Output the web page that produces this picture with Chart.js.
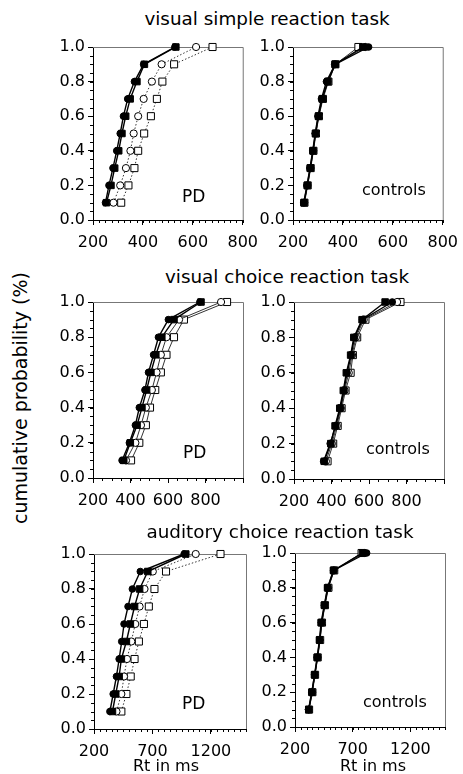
<!DOCTYPE html>
<html>
<head>
<meta charset="utf-8">
<script src="https://cdn.jsdelivr.net/npm/chart.js@4.4.1/dist/chart.umd.min.js"></script>
<style>
  body { margin: 0; background: #fff; }
  #page { position: relative; width: 463px; height: 774px; overflow: hidden; font-family: 'DejaVu Sans', sans-serif; color: #000; }
  #page canvas { position: absolute; }
  .lbl { position: absolute; white-space: nowrap; line-height: 1; }
</style>
</head>
<body>
<div id="page"></div>
<script>
// cumulative probability levels (y) for every curve
var probs = [0.1, 0.2, 0.3, 0.4, 0.5, 0.6, 0.7, 0.8, 0.9, 1.0];
var yTicks = [0, 0.2, 0.4, 0.6, 0.8, 1.0];
var xTicksSimple = [200, 400, 600, 800];
var xTicksChoice = [200, 400, 600, 800, 1000];
var xLabelsChoice = [200, 400, 600, 800];
var xTicksAud = [200, 700, 1200];

var taskTitles = ['visual simple reaction task', 'visual choice reaction task', 'auditory choice reaction task'];
var groupNames = ['PD', 'controls'];

// Rt in ms at each probability level
// visual simple, PD
var vsPdFs = [254, 272, 287, 303, 316, 331, 349, 376, 406, 532];
var vsPdFc = [250, 264, 280, 295, 309, 322, 339, 366, 403, 528];
var vsPdOc = [282, 309, 332, 350, 363, 381, 403, 436, 475, 613];
var vsPdOs = [313, 342, 366, 381, 405, 432, 456, 478, 525, 679];
// visual simple, controls
var vsCoFs = [244, 257, 269, 280, 290, 302, 317, 340, 369, 480];
var vsCoFc = [243, 256, 268, 279, 289, 300, 314, 334, 369, 503];
var vsCoOc = [245, 258, 270, 281, 291, 303, 318, 338, 368, 490];
var vsCoOs = [246, 259, 271, 282, 292, 304, 320, 342, 370, 462];
// visual choice, PD
var vcPdFs = [364, 399, 435, 461, 486, 509, 535, 567, 632, 776];
var vcPdFc = [355, 394, 426, 447, 477, 496, 523, 549, 602, 770];
var vcPdOc = [376, 426, 456, 482, 514, 539, 562, 592, 659, 883];
var vcPdOs = [403, 447, 482, 504, 532, 562, 592, 632, 685, 915];
// visual choice, controls
var vcCoFs = [361, 396, 419, 444, 463, 479, 502, 519, 563, 686];
var vcCoFc = [358, 393, 422, 447, 466, 483, 505, 522, 566, 724];
var vcCoOc = [370, 402, 428, 450, 470, 492, 510, 530, 572, 750];
var vcCoOs = [379, 409, 433, 454, 475, 502, 514, 537, 581, 768];
// auditory choice, PD
var acPdFs = [358, 386, 415, 434, 477, 511, 547, 590, 660, 985];
var acPdFc = [336, 364, 392, 415, 437, 457, 491, 528, 596, 971];
var acPdOc = [392, 434, 457, 482, 519, 553, 590, 632, 703, 1070];
var acPdOs = [434, 477, 514, 547, 584, 627, 669, 717, 816, 1282];
// auditory choice, controls
var acCoFs = [319, 347, 369, 392, 412, 426, 454, 482, 533, 785];
var acCoFc = [317, 345, 371, 394, 414, 430, 456, 484, 535, 821];
var acCoOc = [320, 349, 372, 395, 416, 432, 458, 487, 538, 800];
var acCoOs = [322, 351, 374, 397, 418, 434, 460, 490, 540, 777];

var FONT = 'DejaVu Sans';
var page = document.getElementById('page');

// plot boxes are [left, top, right, bottom] in page pixels
var panels = [
  { box: [93, 47, 244, 220], xmin: 200, xmax: 800, xticks: xTicksSimple, xlabels: xTicksSimple, xminor: 25,
    series: [vsPdFs, vsPdFc, vsPdOc, vsPdOs], dash: [1.5, 2] },
  { box: [293, 47, 444, 220], xmin: 200, xmax: 800, xticks: xTicksSimple, xlabels: xTicksSimple, xminor: 25,
    series: [vsCoFs, vsCoFc, vsCoOc, vsCoOs], dash: [] },
  { box: [93, 302, 243, 478], xmin: 200, xmax: 1000, xticks: xTicksChoice, xlabels: xLabelsChoice, xminor: 50,
    series: [vcPdFs, vcPdFc, vcPdOc, vcPdOs], dash: [] },
  { box: [294, 302, 444, 479], xmin: 200, xmax: 1000, xticks: xTicksChoice, xlabels: xLabelsChoice, xminor: 50,
    series: [vcCoFs, vcCoFc, vcCoOc, vcCoOs], dash: [] },
  { box: [94, 554, 246, 729], xmin: 200, xmax: 1500, xticks: xTicksAud, xlabels: xTicksAud, xminor: 50,
    series: [acPdFs, acPdFc, acPdOc, acPdOs], dash: [1.5, 2] },
  { box: [295, 553, 445, 727], xmin: 200, xmax: 1500, xticks: xTicksAud, xlabels: xTicksAud, xminor: 50,
    series: [acCoFs, acCoFc, acCoOc, acCoOs], dash: [] }
];

// filled square, filled circle, open circle, open square
var markStyles = [
  { pointStyle: 'rect', pointRadius: 4.6, fill: '#000', line: '#000', width: 1.4, open: false },
  { pointStyle: 'circle', pointRadius: 3.3, fill: '#000', line: '#000', width: 1.4, open: false },
  { pointStyle: 'circle', pointRadius: 3.6, fill: '#fff', line: '#333', width: 1, open: true },
  { pointStyle: 'rect', pointRadius: 5, fill: '#fff', line: '#333', width: 1, open: true }
];

// small inward/outward ticks between the labelled ones + grey box edges
var frame = {
  id: 'frame',
  beforeDatasetsDraw: function(chart) {
    var ctx = chart.ctx, a = chart.chartArea;
    ctx.save();
    ctx.strokeStyle = '#777';
    ctx.lineWidth = 1;
    ctx.beginPath();
    ctx.moveTo(a.left, a.top + 0.5);
    ctx.lineTo(a.right + 0.5, a.top + 0.5);
    ctx.lineTo(a.right + 0.5, a.bottom);
    ctx.stroke();
    ctx.restore();
  },
  afterDraw: function(chart, args, opts) {
    var ctx = chart.ctx, a = chart.chartArea;
    var xs = chart.scales.x, ys = chart.scales.y;
    ctx.save();
    ctx.strokeStyle = '#000';
    ctx.lineWidth = 1;
    ctx.beginPath();
    for (var v = xs.min; v <= xs.max + 0.001; v += opts.xStep) {
      var px = Math.round(xs.getPixelForValue(v)) + 0.5;
      ctx.moveTo(px, a.bottom);
      ctx.lineTo(px, a.bottom + 3);
    }
    for (var w = 0; w <= 1.0001; w += 0.05) {
      var py = Math.round(ys.getPixelForValue(w)) + 0.5;
      ctx.moveTo(a.left, py);
      ctx.lineTo(a.left - 3, py);
    }
    ctx.stroke();
    ctx.restore();
  }
};

function makePanel(p) {
  var L = p.box[0], T = p.box[1], R = p.box[2], B = p.box[3];
  var canvas = document.createElement('canvas');
  canvas.width = R - L + 82;
  canvas.height = B - T + 45;
  canvas.style.left = (L - 60) + 'px';
  canvas.style.top = (T - 15) + 'px';
  page.appendChild(canvas);

  var datasets = p.series.map(function(xs, k) {
    var st = markStyles[k];
    return {
      data: xs.map(function(x, i) { return { x: x, y: probs[i] }; }),
      borderColor: st.line,
      borderWidth: st.width,
      borderDash: st.open ? p.dash : [],
      pointStyle: st.pointStyle,
      pointRadius: st.pointRadius,
      pointBackgroundColor: st.fill,
      pointBorderColor: '#000',
      pointBorderWidth: 1,
      tension: 0,
      fill: false,
      clip: false
    };
  });

  var tickFont = { family: FONT, size: 16 };
  return new Chart(canvas, {
    type: 'line',
    data: { datasets: datasets },
    options: {
      responsive: false,
      animation: false,
      layout: { padding: { left: 0, top: 15, right: 22, bottom: 0 } },
      plugins: { legend: { display: false }, tooltip: { enabled: false }, frame: { xStep: p.xminor } },
      scales: {
        x: {
          type: 'linear', min: p.xmin, max: p.xmax,
          afterBuildTicks: function(s) { s.ticks = p.xticks.map(function(v) { return { value: v }; }); },
          afterFit: function(s) { s.height = 30; },
          grid: { drawOnChartArea: false, tickLength: 5, color: '#000', tickColor: '#000' },
          border: { color: '#000', width: 1 },
          ticks: {
            padding: 8, color: '#000', font: tickFont, maxRotation: 0, autoSkip: false,
            callback: function(v) { return p.xlabels.indexOf(v) >= 0 ? String(v) : ''; }
          }
        },
        y: {
          min: 0, max: 1,
          afterBuildTicks: function(s) { s.ticks = yTicks.map(function(v) { return { value: v }; }); },
          afterFit: function(s) { s.width = 60; },
          grid: { drawOnChartArea: false, tickLength: 5, color: '#000', tickColor: '#000' },
          border: { color: '#000', width: 1 },
          ticks: {
            padding: 3, color: '#000', font: tickFont,
            callback: function(v) { return v.toFixed(1); }
          }
        }
      }
    },
    plugins: [frame]
  });
}

// text helpers; baseline position for DejaVu Sans at line-height 1
function addText(txt, x, baseline, size, opts) {
  opts = opts || {};
  var d = document.createElement('div');
  d.className = 'lbl';
  d.textContent = txt;
  d.style.fontSize = size + 'px';
  d.style.left = x + 'px';
  d.style.top = (baseline - 0.846 * size) + 'px';
  var sx = opts.scaleX || 1;
  if (opts.center) {
    d.style.transform = 'translateX(-50%) scaleX(' + sx + ')';
  } else if (sx !== 1) {
    d.style.transformOrigin = 'left center';
    d.style.transform = 'scaleX(' + sx + ')';
  }
  page.appendChild(d);
  return d;
}

panels.forEach(makePanel);

addText(taskTitles[0], 267, 25, 17, { center: true, scaleX: 1.08 });
addText(taskTitles[1], 287, 283, 17, { center: true, scaleX: 1.08 });
addText(taskTitles[2], 280, 538, 17, { center: true, scaleX: 1.08 });

addText(groupNames[0], 182, 202, 17);
addText(groupNames[0], 183, 458, 17);
addText(groupNames[0], 182, 709, 17);
addText(groupNames[1], 362, 196, 16);
addText(groupNames[1], 366, 455, 16);
addText(groupNames[1], 363, 708, 16);

addText('Rt in ms', 166, 772, 16, { center: true });
addText('Rt in ms', 373, 772, 16, { center: true });

var yt = document.createElement('div');
yt.className = 'lbl';
yt.textContent = 'cumulative probability (%)';
yt.style.fontSize = '19px';
yt.style.left = '20px';
yt.style.top = '398px';
yt.style.transform = 'translate(-50%, -50%) rotate(-90deg)';
page.appendChild(yt);
</script>
</body>
</html>
